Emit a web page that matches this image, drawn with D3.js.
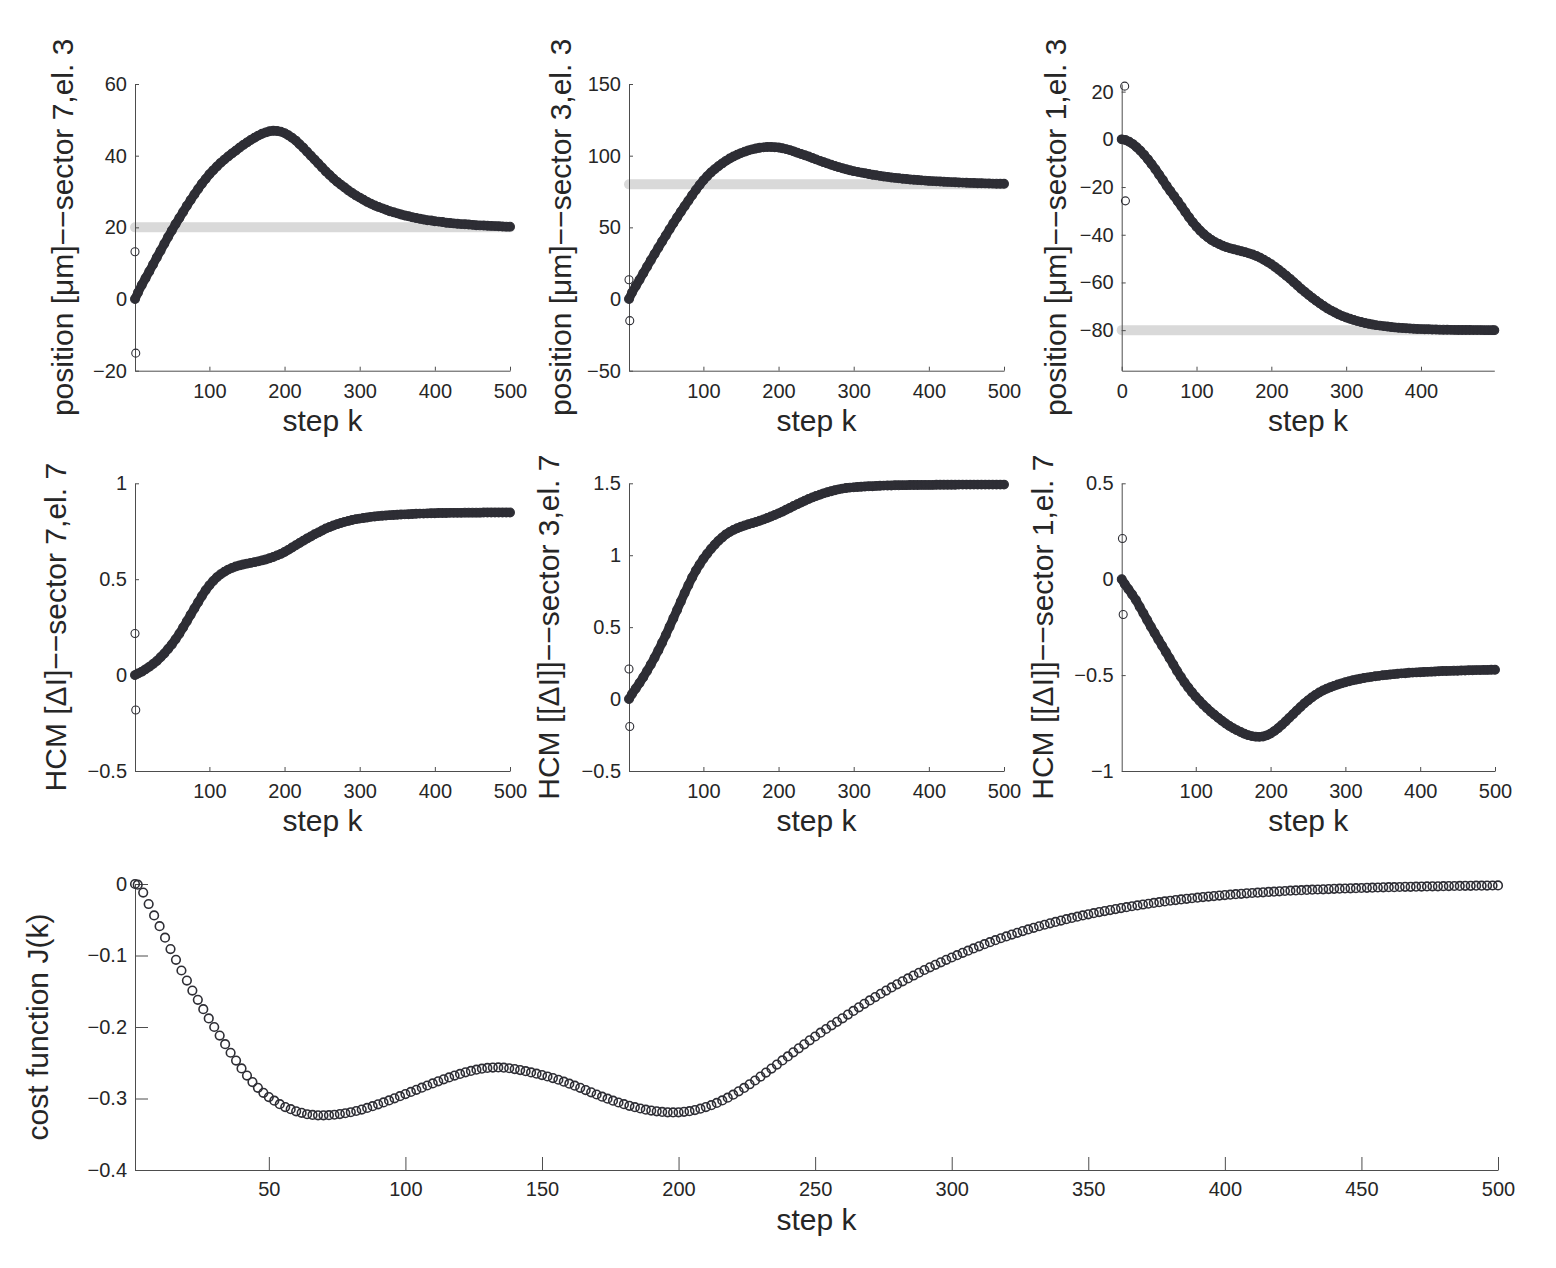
<!DOCTYPE html>
<html><head><meta charset="utf-8">
<script src="https://cdn.jsdelivr.net/npm/d3@7"></script>
<style>
body{margin:0;background:#fff}
svg text{font-family:"Liberation Sans",Arial,Helvetica,sans-serif;fill:#262626}
</style>
</head><body>
<svg id="fig" width="1556" height="1268"></svg>
<script>
// ---------------- DATA ----------------
// step indices (x categories)
const kTop = [1].concat(d3.range(5, 501, 5));               // k = 1,5,10,...,500
const kTR  = [0].concat(d3.range(5, 496, 5), [498]);        // k = 0,5,...,495,498
const kBottom = [1].concat(d3.range(2, 501, 2));            // k = 1,2,4,...,500

// top row: positions [µm]
const posSector7 = [0,
  1.8,3.9,5.8,7.7,9.6,11.6,13.5,15.4,17.3,19.1,
  20.9,22.6,24.3,26.0,27.6,29.2,30.7,32.2,33.5,34.8,
  35.9,37.0,38.0,38.9,39.8,40.6,41.4,42.2,43.0,43.7,
  44.4,45.0,45.6,46.1,46.5,46.8,46.95,46.9,46.7,46.3,
  45.7,45.0,44.2,43.2,42.2,41.1,40.0,38.9,37.8,36.7,
  35.6,34.6,33.6,32.7,31.9,31.1,30.3,29.6,28.9,28.3,
  27.7,27.1,26.6,26.1,25.7,25.3,24.9,24.5,24.2,23.9,
  23.6,23.3,23.1,22.8,22.6,22.4,22.2,22.0,21.9,21.7,
  21.6,21.5,21.3,21.2,21.1,21.0,20.9,20.85,20.8,20.7,
  20.6,20.55,20.5,20.45,20.4,20.35,20.3,20.25,20.2,20.2];
const posSector3 = [0,
  4.5,9.0,13.5,18.0,22.5,27.0,31.4,35.8,40.1,44.4,
  48.6,52.8,56.9,60.9,64.8,68.6,72.4,76.1,79.6,82.8,
  85.7,88.3,90.6,92.7,94.6,96.4,98.0,99.4,100.7,101.8,
  102.8,103.7,104.4,105.0,105.5,105.8,106.0,106.0,105.9,105.7,
  105.2,104.6,103.9,103.0,102.1,101.2,100.3,99.4,98.4,97.4,
  96.4,95.5,94.6,93.7,92.8,92.0,91.2,90.5,89.8,89.2,
  88.7,88.2,87.7,87.2,86.7,86.3,85.9,85.5,85.2,84.8,
  84.5,84.2,83.9,83.7,83.4,83.2,83.0,82.8,82.6,82.4,
  82.25,82.1,81.95,81.8,81.7,81.55,81.45,81.3,81.2,81.1,
  81.0,80.9,80.8,80.75,80.65,80.6,80.5,80.45,80.4,80.4];
const posSector1 = [0,
  -0.3,-1.0,-2.0,-3.3,-4.8,-6.5,-8.4,-10.4,-12.5,-14.8,
  -17.1,-19.5,-21.7,-23.8,-26.0,-28.2,-30.5,-32.7,-34.8,-36.6,
  -38.3,-39.8,-41.1,-42.2,-43.1,-43.9,-44.6,-45.2,-45.7,-46.1,
  -46.5,-46.9,-47.3,-47.8,-48.3,-48.9,-49.6,-50.5,-51.4,-52.4,
  -53.5,-54.7,-55.9,-57.2,-58.5,-59.9,-61.3,-62.7,-64.0,-65.3,
  -66.5,-67.7,-68.8,-69.9,-70.9,-71.8,-72.6,-73.4,-74.1,-74.7,
  -75.2,-75.7,-76.2,-76.6,-77.0,-77.3,-77.6,-77.9,-78.1,-78.3,
  -78.5,-78.7,-78.85,-79.0,-79.1,-79.2,-79.3,-79.4,-79.5,-79.55,
  -79.6,-79.65,-79.7,-79.75,-79.8,-79.82,-79.85,-79.87,-79.9,-79.92,
  -79.94,-79.95,-79.96,-79.97,-79.98,-79.98,-79.99,-79.99,-80.0,
  -80.0];

// middle row: HCM currents
const hcmSector7 = [0,
  0.008,0.018,0.030,0.043,0.058,0.074,0.093,0.113,0.136,0.160,
  0.187,0.216,0.248,0.281,0.314,0.347,0.380,0.412,0.442,0.468,
  0.491,0.510,0.526,0.539,0.550,0.559,0.566,0.572,0.577,0.581,
  0.585,0.589,0.593,0.598,0.603,0.609,0.616,0.624,0.632,0.642,
  0.653,0.665,0.677,0.689,0.701,0.712,0.723,0.734,0.744,0.754,
  0.764,0.772,0.780,0.787,0.793,0.799,0.804,0.809,0.813,0.816,
  0.819,0.822,0.825,0.827,0.829,0.831,0.832,0.834,0.835,0.836,
  0.837,0.838,0.839,0.840,0.841,0.842,0.842,0.843,0.844,0.844,
  0.845,0.845,0.845,0.846,0.846,0.846,0.846,0.847,0.847,0.847,
  0.847,0.847,0.848,0.848,0.848,0.848,0.848,0.848,0.848,0.848];
const hcmSector3 = [0,
  0.036,0.073,0.112,0.152,0.195,0.240,0.288,0.338,0.391,0.446,
  0.503,0.561,0.620,0.679,0.737,0.792,0.845,0.893,0.936,0.975,
  1.010,1.043,1.073,1.100,1.124,1.145,1.162,1.176,1.188,1.198,
  1.207,1.215,1.223,1.231,1.240,1.249,1.259,1.269,1.280,1.291,
  1.303,1.316,1.329,1.342,1.355,1.367,1.379,1.391,1.402,1.412,
  1.421,1.430,1.438,1.445,1.452,1.458,1.463,1.467,1.470,1.472,
  1.474,1.476,1.478,1.479,1.480,1.482,1.483,1.484,1.485,1.485,
  1.486,1.486,1.487,1.487,1.488,1.488,1.488,1.489,1.489,1.489,
  1.489,1.490,1.490,1.490,1.490,1.490,1.490,1.491,1.491,1.491,
  1.491,1.491,1.491,1.491,1.491,1.491,1.491,1.491,1.491,1.491];
const hcmSector1 = [0,
  -0.025,-0.052,-0.080,-0.109,-0.143,-0.178,-0.213,-0.248,-0.281,-0.314,
  -0.347,-0.379,-0.412,-0.445,-0.478,-0.509,-0.538,-0.565,-0.590,-0.613,
  -0.634,-0.654,-0.673,-0.691,-0.707,-0.723,-0.738,-0.752,-0.765,-0.777,
  -0.787,-0.797,-0.806,-0.813,-0.818,-0.821,-0.822,-0.820,-0.814,-0.805,
  -0.792,-0.777,-0.760,-0.742,-0.723,-0.704,-0.685,-0.666,-0.648,-0.632,
  -0.617,-0.603,-0.591,-0.580,-0.571,-0.563,-0.556,-0.549,-0.543,-0.537,
  -0.532,-0.527,-0.523,-0.519,-0.515,-0.512,-0.509,-0.506,-0.504,-0.501,
  -0.499,-0.497,-0.495,-0.493,-0.491,-0.490,-0.488,-0.487,-0.486,-0.485,
  -0.484,-0.483,-0.482,-0.481,-0.480,-0.479,-0.479,-0.478,-0.477,-0.477,
  -0.476,-0.476,-0.475,-0.475,-0.474,-0.474,-0.473,-0.473,-0.472,-0.472];

// bottom: cost function J(k)
const costJ = [0,
  -0.001,-0.012,-0.028,-0.044,-0.059,-0.075,-0.091,-0.106,-0.121,-0.135,
  -0.149,-0.162,-0.175,-0.188,-0.200,-0.212,-0.224,-0.236,-0.247,-0.258,
  -0.268,-0.277,-0.285,-0.292,-0.298,-0.303,-0.308,-0.312,-0.315,-0.318,
  -0.320,-0.322,-0.323,-0.3235,-0.3235,-0.3233,-0.3227,-0.3218,-0.3206,-0.3192,
  -0.3175,-0.3155,-0.3132,-0.3108,-0.3082,-0.3055,-0.3027,-0.2998,-0.2968,-0.2938,
  -0.2908,-0.2878,-0.2848,-0.2818,-0.2789,-0.276,-0.2732,-0.2705,-0.268,-0.2656,
  -0.2634,-0.2614,-0.2597,-0.2583,-0.2573,-0.2567,-0.2566,-0.2569,-0.2577,-0.2588,
  -0.2602,-0.2618,-0.2635,-0.2653,-0.2672,-0.2692,-0.2714,-0.2738,-0.2764,-0.2792,
  -0.2821,-0.2851,-0.2882,-0.2913,-0.2944,-0.2974,-0.3003,-0.303,-0.3056,-0.308,
  -0.3102,-0.3122,-0.314,-0.3156,-0.3169,-0.318,-0.3188,-0.3193,-0.3195,-0.3193,
  -0.3187,-0.3177,-0.3162,-0.3143,-0.312,-0.3093,-0.3062,-0.3027,-0.2988,-0.2946,
  -0.29,-0.2852,-0.2801,-0.2748,-0.2694,-0.2638,-0.2582,-0.2525,-0.2468,-0.2411,
  -0.2354,-0.2298,-0.2242,-0.2187,-0.2133,-0.208,-0.2028,-0.1977,-0.1927,-0.1878,
  -0.1826,-0.1775,-0.1725,-0.1676,-0.1628,-0.1581,-0.1535,-0.149,-0.1446,-0.1403,
  -0.1361,-0.132,-0.128,-0.1241,-0.1203,-0.1166,-0.113,-0.1095,-0.1061,-0.1028,
  -0.0995,-0.0963,-0.0932,-0.0901,-0.0871,-0.0842,-0.0814,-0.0786,-0.0759,-0.0733,
  -0.0708,-0.0683,-0.0659,-0.0636,-0.0613,-0.0591,-0.057,-0.055,-0.053,-0.0511,
  -0.0492,-0.0474,-0.0457,-0.044,-0.0424,-0.0408,-0.0393,-0.0378,-0.0364,-0.035,
  -0.0337,-0.0324,-0.0311,-0.0299,-0.0287,-0.0276,-0.0265,-0.0254,-0.0244,-0.0234,
  -0.0225,-0.0216,-0.0207,-0.0199,-0.0191,-0.0183,-0.0176,-0.0169,-0.0162,-0.0155,
  -0.0149,-0.0143,-0.0137,-0.0131,-0.0126,-0.0121,-0.0116,-0.0111,-0.0107,-0.0102,
  -0.0098,-0.0094,-0.009,-0.0087,-0.0083,-0.008,-0.0077,-0.0074,-0.0071,-0.0068,
  -0.0065,-0.0063,-0.006,-0.0058,-0.0056,-0.0053,-0.0051,-0.0049,-0.0047,-0.0045,
  -0.0044,-0.0042,-0.004,-0.0039,-0.0037,-0.0036,-0.0034,-0.0033,-0.0032,-0.003,
  -0.0029,-0.0028,-0.0027,-0.0026,-0.0025,-0.0024,-0.0023,-0.0022,-0.0021,-0.002];

// initial excitation points [k, value]
const initSector7 = [[1, 13.2], [2, -15.1]];
const initSector3 = [[1, 13.4], [2, -15.1]];
const initSector1 = [[4, 22.3], [5, -25.8]];
const initHcm7 = [[1, 0.217], [2, -0.182]];
const initHcm3 = [[1, 0.209], [2, -0.191]];
const initHcm1 = [[2, 0.212], [3, -0.184]];

// set-points (reference positions)
const setpoints = [20, 80, -80];

// tick values
const ticksK500 = [100, 200, 300, 400, 500];
const ticksK400 = [0, 100, 200, 300, 400];
const ticksKBottom = [50, 100, 150, 200, 250, 300, 350, 400, 450, 500];
const ticksPos7 = [-20, 0, 20, 40, 60];
const ticksPos3 = [-50, 0, 50, 100, 150];
const ticksPos1 = [-80, -60, -40, -20, 0, 20];
const ticksHcm7 = [-0.5, 0, 0.5, 1];
const ticksHcm3 = [-0.5, 0, 0.5, 1, 1.5];
const ticksHcm1 = [-1, -0.5, 0, 0.5];
const ticksJ = [-0.4, -0.3, -0.2, -0.1, 0];

// labels
const xLabel = "step k";
const yLabels = [
  "position [\u03BCm]\u2212\u2212sector 7,el. 3",
  "position [\u03BCm]\u2212\u2212sector 3,el. 3",
  "position [\u03BCm]\u2212\u2212sector 1,el. 3",
  "HCM [\u0394I]\u2212\u2212sector 7,el. 7",
  "HCM [[\u0394I]]\u2212\u2212sector 3,el. 7",
  "HCM [[\u0394I]]\u2212\u2212sector 1,el. 7",
  "cost function J(k)"
];

// ---------------- DRAWING ----------------
const svg = d3.select("#fig");
const fmt = v => (v < 0 ? "\u2212" : "") + String(Math.abs(Math.round(v * 1000) / 1000));
const AXIS = "#4d4d4d", MARK = "#2e2e35", REF = "#d9d9d9";

function panel(o) {
  const x = d3.scaleLinear().domain(o.xd).range([o.x0, o.x1]);
  const y = d3.scaleLinear().domain(o.yd).range([o.y1, o.y0]);
  const g = svg.append("g");

  // setpoint line
  if (o.sp !== undefined) {
    g.append("line")
      .attr("x1", x(o.xd[0])).attr("x2", x(o.xd[1]))
      .attr("y1", y(o.sp)).attr("y2", y(o.sp))
      .attr("stroke", REF).attr("stroke-width", 10).attr("stroke-linecap", "round");
  }

  // axes
  const ax = g.append("g").attr("transform", `translate(0,${o.y1})`)
    .call(d3.axisBottom(x).tickValues(o.xt).tickFormat(fmt)
      .tickSizeInner(-o.tl).tickSizeOuter(0).tickPadding(o.xpad));
  const ay = g.append("g").attr("transform", `translate(${o.x0},0)`)
    .call(d3.axisLeft(y).tickValues(o.yt).tickFormat(fmt)
      .tickSizeInner(-o.tl).tickSizeOuter(0).tickPadding(8));
  [ax, ay].forEach(a => {
    a.select(".domain").attr("stroke", AXIS).attr("stroke-width", 1);
    a.selectAll(".tick line").attr("stroke", AXIS).attr("stroke-width", 1);
    a.selectAll(".tick text").attr("font-size", 20)
      .attr("font-family", '"Liberation Sans",Arial,sans-serif').attr("fill", "#262626");
  });

  const pts = o.k.map((kk, i) => [kk, o.v[i]]);

  // dense marker band (markers overlap into a thick trace)
  if (o.band) {
    g.append("path").datum(pts)
      .attr("d", d3.line().x(d => x(d[0])).y(d => y(d[1])))
      .attr("fill", "none").attr("stroke", MARK).attr("stroke-width", o.band)
      .attr("stroke-linecap", "round").attr("stroke-linejoin", "round");
  }

  // series markers
  g.append("g").selectAll("circle").data(pts)
    .join("circle")
    .attr("cx", d => x(d[0])).attr("cy", d => y(d[1]))
    .attr("r", o.r).attr("fill", "none")
    .attr("stroke", MARK).attr("stroke-width", o.sw);

  if (o.init) {
    g.append("g").selectAll("circle").data(o.init).join("circle")
      .attr("cx", d => x(d[0])).attr("cy", d => y(d[1]))
      .attr("r", 4).attr("fill", "none")
      .attr("stroke", MARK).attr("stroke-width", 1.1);
  }

  // labels
  g.append("text").attr("x", (o.x0 + o.x1) / 2).attr("y", o.y1 + 60)
    .attr("text-anchor", "middle").attr("font-size", 30).text(xLabel);
  g.append("text")
    .attr("transform", `translate(${o.ylx},${(o.y0 + o.y1) / 2}) rotate(-90)`)
    .attr("text-anchor", "middle").attr("font-size", 30).text(o.yl);
}

const TOP = [84, 370.7], MID = [483.3, 771];
const C1 = [135, 510], C2 = [629, 1004];

panel({x0:C1[0], x1:C1[1], y0:TOP[0], y1:TOP[1], xd:[1,500], yd:[-20,60],
  xt:ticksK500, yt:ticksPos7, k:kTop, v:posSector7, init:initSector7, sp:setpoints[0],
  yl:yLabels[0], ylx:73, tl:4, xpad:13, r:4.4, sw:1.1, band:9});
panel({x0:C2[0], x1:C2[1], y0:TOP[0], y1:TOP[1], xd:[1,500], yd:[-50,150],
  xt:ticksK500, yt:ticksPos3, k:kTop, v:posSector3, init:initSector3, sp:setpoints[1],
  yl:yLabels[1], ylx:571, tl:4, xpad:13, r:4.4, sw:1.1, band:9});
panel({x0:1121.7, x1:1494.3, y0:TOP[0], y1:TOP[1], xd:[0,498], yd:[-97,23.2],
  xt:ticksK400, yt:ticksPos1, k:kTR, v:posSector1, init:initSector1, sp:setpoints[2],
  yl:yLabels[2], ylx:1066, tl:4, xpad:13, r:4.4, sw:1.1, band:9});

panel({x0:C1[0], x1:C1[1], y0:MID[0], y1:MID[1], xd:[1,500], yd:[-0.5,1],
  xt:ticksK500, yt:ticksHcm7, k:kTop, v:hcmSector7, init:initHcm7,
  yl:yLabels[3], ylx:66, tl:4, xpad:13, r:4.4, sw:1.1, band:9});
panel({x0:C2[0], x1:C2[1], y0:MID[0], y1:MID[1], xd:[1,500], yd:[-0.5,1.5],
  xt:ticksK500, yt:ticksHcm3, k:kTop, v:hcmSector3, init:initHcm3,
  yl:yLabels[4], ylx:559, tl:4, xpad:13, r:4.4, sw:1.1, band:9});
panel({x0:1121.7, x1:1495, y0:MID[0], y1:MID[1], xd:[1,500], yd:[-1,0.5],
  xt:ticksK500, yt:ticksHcm1, k:kTop, v:hcmSector1, init:initHcm1,
  yl:yLabels[5], ylx:1053, tl:4, xpad:13, r:4.4, sw:1.1, band:9});

panel({x0:135, x1:1498, y0:884, y1:1170, xd:[1,500], yd:[-0.4,0],
  xt:ticksKBottom, yt:ticksJ, k:kBottom, v:costJ,
  yl:yLabels[6], ylx:48, tl:13, xpad:12, r:4.3, sw:1.6});
</script>
</body></html>
